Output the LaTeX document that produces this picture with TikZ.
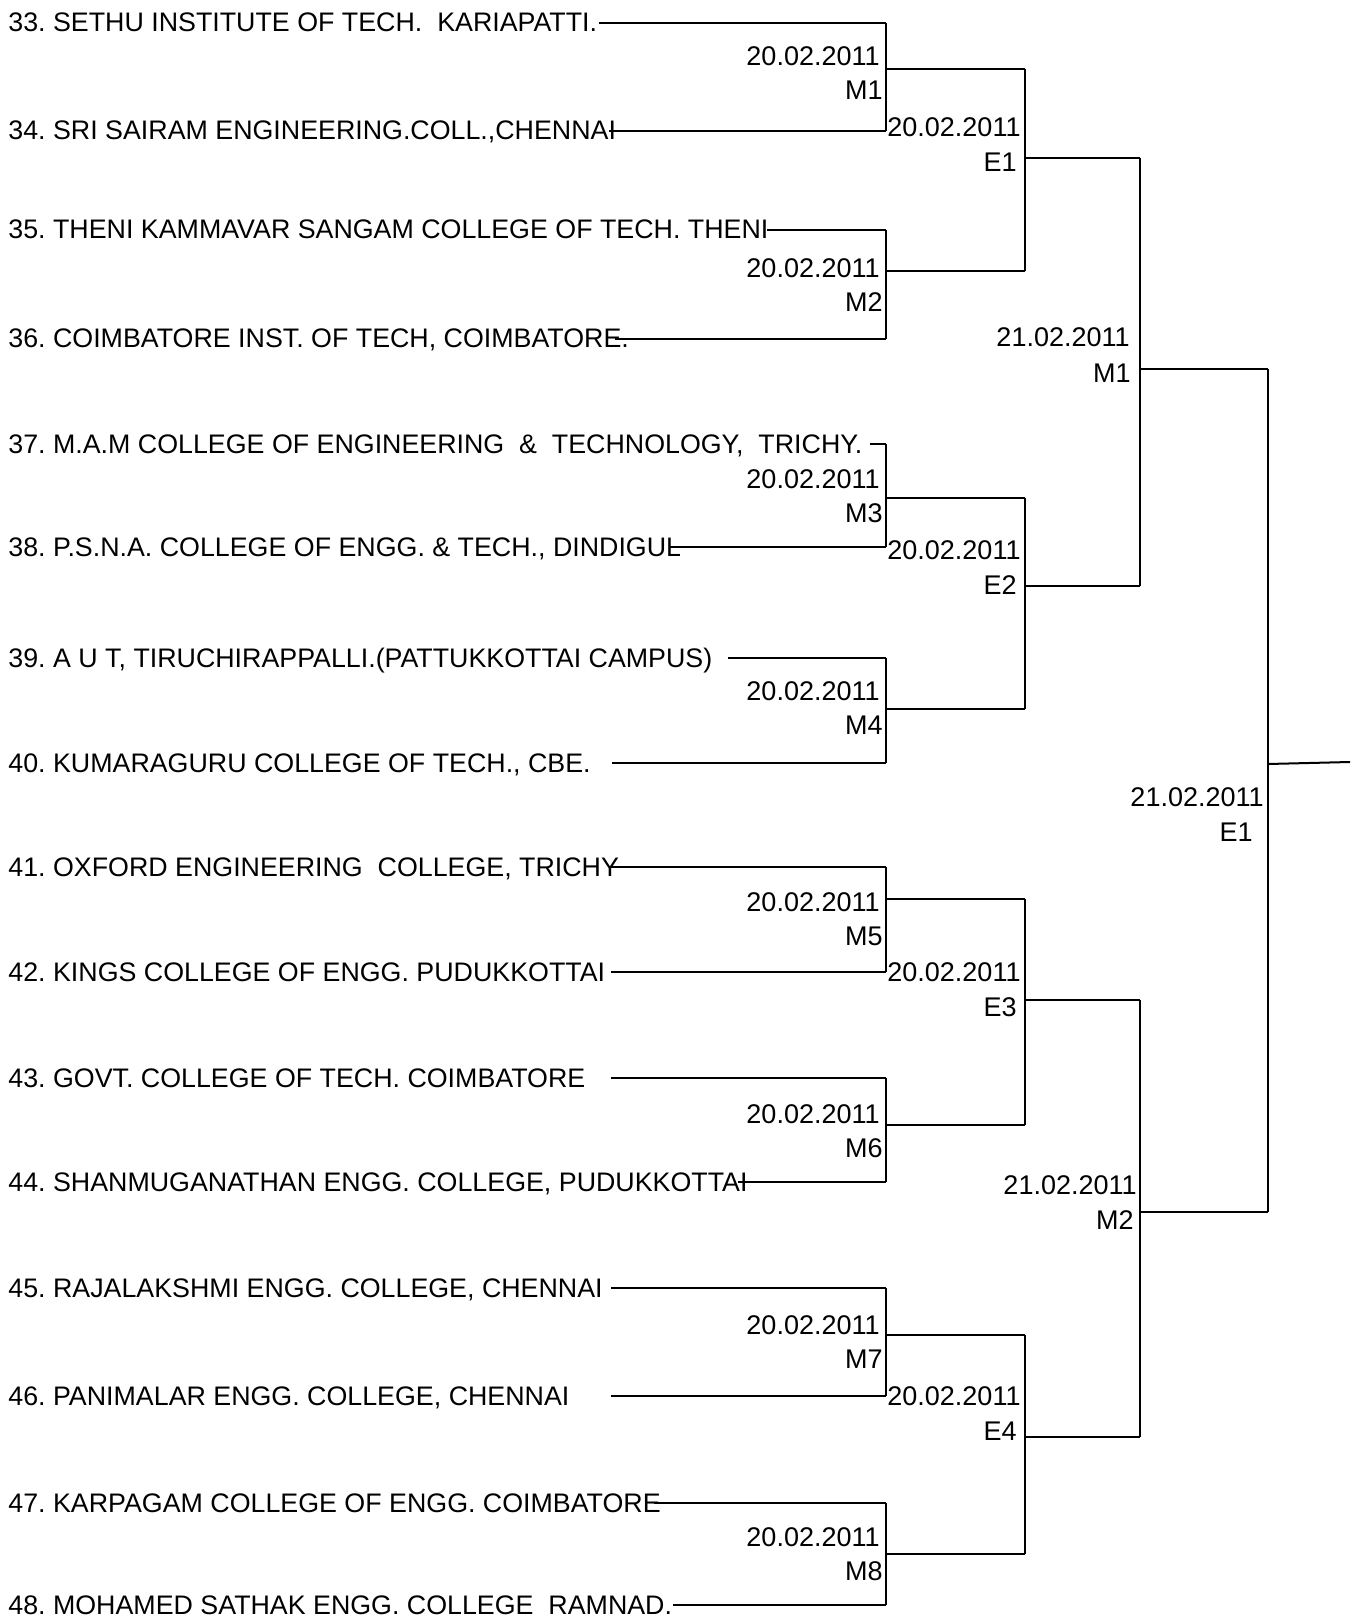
\documentclass[tikz,border=0pt]{standalone}
\usepackage{fontspec}
\setmainfont{Liberation Sans}
\tikzset{
  team/.style={anchor=base west, inner sep=0pt, font=\fontsize{13.4pt}{15pt}\selectfont},
  lbl/.style={inner sep=0pt, font=\fontsize{13.5pt}{15pt}\selectfont},
  wire/.style={line width=1pt}
}
\begin{document}
\frenchspacing
\begin{tikzpicture}[x=0.5pt,y=-0.5pt]
\useasboundingbox (0,0) rectangle (1350,1620);
% teams
\foreach \i/\y/\xs/\t in {
  33/23/599/{33. SETHU INSTITUTE OF TECH.\ \ KARIAPATTI.},
  34/131/609/{34. SRI SAIRAM ENGINEERING.COLL.,CHENNAI},
  35/230/767/{35. THENI KAMMAVAR SANGAM COLLEGE OF TECH. THENI},
  36/339/615/{36. COIMBATORE INST. OF TECH, COIMBATORE.},
  37/444/870/{37. M.A.M COLLEGE OF ENGINEERING\ \ \&\ \ TECHNOLOGY,\ \ TRICHY.},
  38/547/669/{38. P.S.N.A. COLLEGE OF ENGG. \& TECH., DINDIGUL},
  39/658/728/{39. A U T, TIRUCHIRAPPALLI.(PATTUKKOTTAI CAMPUS)},
  40/763/612/{40. KUMARAGURU COLLEGE OF TECH., CBE.},
  41/867/609/{41. OXFORD ENGINEERING\ \ COLLEGE, TRICHY},
  42/972/611/{42. KINGS COLLEGE OF ENGG. PUDUKKOTTAI},
  43/1078/611/{43. GOVT. COLLEGE OF TECH. COIMBATORE},
  44/1182/738/{44. SHANMUGANATHAN ENGG. COLLEGE, PUDUKKOTTAI},
  45/1288/611/{45. RAJALAKSHMI ENGG. COLLEGE, CHENNAI},
  46/1396/611/{46. PANIMALAR ENGG. COLLEGE, CHENNAI},
  47/1503/654/{47. KARPAGAM COLLEGE OF ENGG. COIMBATORE},
  48/1605/673/{48. MOHAMED SATHAK ENGG. COLLEGE\ \ RAMNAD.}} {
  \node[team] (t\i) at (8,\y+9) {\t};
  \coordinate (s\i) at (\xs,\y);
  \coordinate (r\i) at (886,\y);
  \draw[wire] (s\i) -- (r\i);
}
% round 1
\foreach \k/\a/\b/\my in {1/33/34/69, 2/35/36/271, 3/37/38/498, 4/39/40/709,
  5/41/42/899, 6/43/44/1125, 7/45/46/1335, 8/47/48/1554} {
  \coordinate (m\k) at (886,\my);
  \coordinate (q\k) at (1025,\my);
  \draw[wire] (r\a) -- (r\b);
  \draw[wire] (m\k) -- (q\k);
}
% round 2
\foreach \k/\a/\b/\ey in {1/1/2/158, 2/3/4/586, 3/5/6/1000, 4/7/8/1437} {
  \coordinate (e\k) at (1025,\ey);
  \coordinate (p\k) at (1140,\ey);
  \draw[wire] (q\a) -- (q\b);
  \draw[wire] (e\k) -- (p\k);
}
% semis
\foreach \k/\a/\b/\sy in {1/1/2/369, 2/3/4/1212} {
  \coordinate (f\k) at (1140,\sy);
  \coordinate (g\k) at (1268,\sy);
  \draw[wire] (p\a) -- (p\b);
  \draw[wire] (f\k) -- (g\k);
}
% final
\coordinate (w) at (1268,764);
\coordinate (wend) at (1350,762);
\draw[wire] (g1) -- (g2);
\draw[wire] (w) -- (wend);
% labels round 1
\foreach \k/\b in {1/66,2/278,3/488,4/700,5/911,6/1123,7/1334,8/1546} {
  \node[lbl,anchor=base east] (d\k) at (880,\b) {20.02.2011};
  \node[lbl,anchor=base east] (ml\k) at (883,\b+34) {M\k};
}
% labels round 2
\foreach \k/\b in {1/137,2/559,3/981,4/1405} {
  \node[lbl,anchor=base west] (ed\k) at (887,\b) {20.02.2011};
  \node[lbl,anchor=base east] (el\k) at (1017,\b+35) {E\k};
}
% semis labels
\node[lbl,anchor=base east] (sd1) at (1130,347) {21.02.2011};
\node[lbl,anchor=base east] (sl1) at (1131,383) {M1};
\node[lbl,anchor=base east] (sd2) at (1137,1194) {21.02.2011};
\node[lbl,anchor=base east] (sl2) at (1134,1229) {M2};
% final labels
\node[lbl,anchor=base east] (fd) at (1264,806) {21.02.2011};
\node[lbl,anchor=base east] (fl) at (1253,841) {E1};
\end{tikzpicture}
\end{document}
